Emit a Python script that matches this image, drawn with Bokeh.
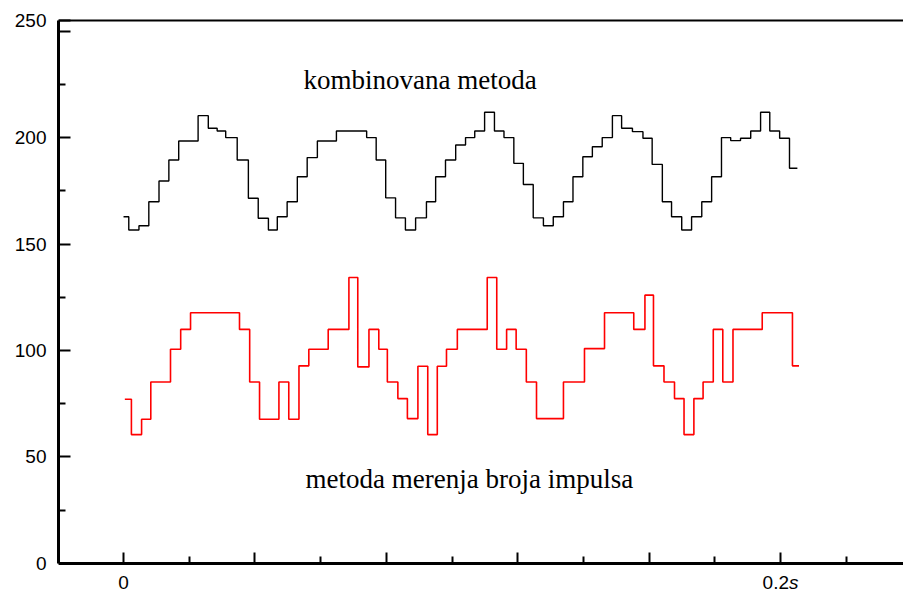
from bokeh.plotting import figure
from bokeh.models import Range1d, FixedTicker, Label, Span, LinearAxis
from bokeh.embed import file_html
from bokeh.resources import INLINE

# ---- data (time in ms, value in counts) ----
t_black_ms = [0.0, 1.6, 4.7, 7.7, 10.8, 13.8, 16.8, 22.7, 25.8, 28.5, 31.1, 34.6, 38.0, 41.0,
              44.1, 46.8, 49.8, 52.9, 55.9, 59.0, 64.8, 74.0, 76.9, 79.8, 82.8, 85.8, 88.9,
              92.2, 95.0, 98.0, 101.1, 104.1, 106.9, 109.9, 112.9, 115.8, 118.8, 121.7, 124.7,
              127.8, 130.8, 133.9, 136.8, 139.8, 142.7, 145.7, 148.8, 151.6, 154.9, 158.1,
              160.9, 164.0, 166.8, 169.9, 172.9, 176.0, 179.0, 182.0, 184.8, 187.8, 190.9,
              193.9, 196.7, 199.7, 202.7, 205.1]
v_black = [162.8, 156.6, 158.6, 169.9, 179.6, 189.5, 198.4, 210.3, 204.4, 203.1, 200.0, 189.5,
           171.5, 162.1, 156.6, 162.8, 169.9, 181.6, 190.6, 198.4, 203.1, 200.0, 189.5, 171.7,
           162.3, 156.6, 162.3, 169.9, 181.6, 189.5, 196.5, 200.0, 203.1, 211.9, 203.1, 200.0,
           187.9, 178.0, 162.3, 158.6, 162.8, 169.9, 181.6, 191.0, 195.7, 200.0, 210.3, 204.4,
           202.8, 199.7, 187.4, 169.9, 162.8, 156.6, 162.8, 169.9, 181.6, 200.0, 198.6, 199.7,
           203.1, 211.9, 203.1, 199.7, 185.6, 185.6]

t_red_ms = [0.4, 2.4, 5.5, 8.3, 14.3, 17.4, 20.4, 35.3, 38.4, 41.4, 47.3, 50.3, 53.4, 56.4,
            62.3, 68.6, 71.3, 74.7, 77.7, 80.3, 83.5, 86.4, 89.6, 92.6, 95.5, 98.3, 101.6,
            110.7, 113.6, 116.6, 119.5, 122.6, 125.7, 133.9, 140.3, 146.4, 155.3, 158.7,
            161.3, 164.5, 167.7, 170.6, 173.6, 176.4, 179.5, 182.4, 185.5, 194.4, 203.6, 205.6]
v_red = [77.1, 60.5, 67.7, 85.2, 100.6, 109.9, 117.7, 109.9, 85.2, 67.7, 85.2, 67.7, 92.8,
         100.6, 109.9, 134.3, 92.3, 109.9, 100.6, 85.2, 77.4, 68.0, 92.6, 60.5, 92.6, 100.6,
         109.9, 134.3, 100.6, 109.9, 100.6, 85.2, 68.0, 85.2, 100.9, 117.7, 109.9, 126.0,
         92.8, 85.2, 77.4, 60.5, 77.4, 85.2, 109.9, 85.2, 109.9, 117.7, 92.8, 92.8]

y_ticks_labeled = [0, 50, 100, 150, 200]
y_tick_top = 250
y_minor = [25, 75, 125, 175, 225]
x_ticks = [0, 0.04, 0.08, 0.12, 0.16, 0.2]
x_minor = [-0.02, 0.02, 0.06, 0.10, 0.14, 0.18, 0.22]
x_label_zero = "0"
x_label_end_num = "0.2"
x_label_end_unit = "s"
label_top = "kombinovana metoda"
label_bottom = "metoda merenja broja impulsa"

t_black = [t / 1000.0 for t in t_black_ms]
t_red = [t / 1000.0 for t in t_red_ms]

X_START, X_END = -0.01979, 0.2374
Y_TOP = 255.94
Y_BOT = -13.2
Y_FRAME_TOP = 255

p = figure(width=903, height=595, x_range=Range1d(X_START, X_END), y_range=Range1d(Y_BOT, Y_TOP),
           output_backend="svg", toolbar_location=None,
           min_border_left=58, min_border_right=0, min_border_top=18, min_border_bottom=4)
p.outline_line_color = None
p.xgrid.visible = False
p.ygrid.visible = False
p.background_fill_color = "white"
p.border_fill_color = "white"

p.step(t_black, v_black, mode="after", line_color="black", line_width=1.4)
p.step(t_red, v_red, mode="after", line_color="#ff0000", line_width=1.6)

for ax in (p.xaxis[0], p.yaxis[0]):
    ax.axis_line_width = 3
    ax.axis_line_color = "black"
    ax.major_tick_line_width = 2
    ax.minor_tick_line_width = 2
    ax.major_tick_line_color = "black"
    ax.minor_tick_line_color = "black"
    ax.major_tick_out = 0
    ax.minor_tick_out = 0
    ax.major_label_text_font = "Liberation Sans"
    ax.major_label_text_color = "black"

# left axis: labels 0..200 at their ticks, "250" label printed at the top edge as in the original
ya = p.yaxis[0]
ya.major_tick_in = 12
ya.minor_tick_in = 7
ya.bounds = (0, Y_FRAME_TOP)
ya.ticker = FixedTicker(ticks=y_ticks_labeled + [Y_FRAME_TOP], minor_ticks=y_minor)
ya.major_label_overrides = {Y_FRAME_TOP: str(y_tick_top)}
ya.major_label_standoff = 12
ya.major_label_text_font_size = "19px"

# unlabeled major tick at 250
ya2 = LinearAxis(ticker=FixedTicker(ticks=[y_tick_top], minor_ticks=[]), fixed_location=X_START,
                 axis_line_color=None, major_tick_in=12, major_tick_out=0,
                 major_tick_line_width=2, major_tick_line_color="black",
                 minor_tick_line_color=None, major_label_text_color=None,
                 major_label_text_font_size="0px", major_label_standoff=0)
p.add_layout(ya2, "left")

xa = p.xaxis[0]
xa.major_tick_in = 11
xa.minor_tick_in = 7
xa.fixed_location = 0
xa.ticker = FixedTicker(ticks=x_ticks, minor_ticks=x_minor)
xa.major_label_text_font_size = "0px"
xa.major_label_text_color = None
xa.major_label_standoff = 0

p.add_layout(Span(location=Y_FRAME_TOP, dimension="width", line_color="black", line_width=2))

lab_kw = dict(text_font="Liberation Sans", text_font_size="19px", text_color="black",
              text_baseline="middle")
p.add_layout(Label(x=0, y=-9.1, text=x_label_zero, text_align="center", **lab_kw))
p.add_layout(Label(x=0.20256, y=-9.1, text=x_label_end_num, text_align="right", **lab_kw))
p.add_layout(Label(x=0.20256, y=-9.1, text=x_label_end_unit, text_align="left",
                   text_font_style="italic", **lab_kw))

p.add_layout(Label(x=0.0548, y=226.9, text=label_top, text_align="left", text_baseline="middle",
                   text_font="Liberation Serif", text_font_size="27px", text_color="black"))
p.add_layout(Label(x=0.0554, y=39.8, text=label_bottom, text_align="left", text_baseline="middle",
                   text_font="Liberation Serif", text_font_size="27px", text_color="black"))

open("out.html", "w").write(file_html(p, INLINE))
